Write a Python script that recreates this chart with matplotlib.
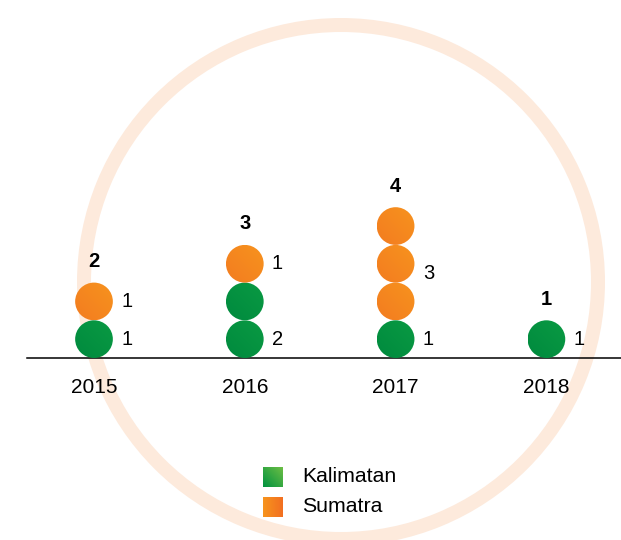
import numpy as np
import matplotlib
matplotlib.use("Agg")
import matplotlib.pyplot as plt
from matplotlib.patches import Circle, Rectangle, Annulus
from matplotlib.colors import LinearSegmentedColormap

plt.rcParams['font.family'] = ['Liberation Sans', 'DejaVu Sans']

years = ['2015', '2016', '2017', '2018']
kalimatan = [1, 2, 1, 1]
sumatra = [1, 1, 3, 0]
series_names = ['Kalimatan', 'Sumatra']

green_cmap = LinearSegmentedColormap.from_list('g', ['#008a3e', '#0a9a43'])
orange_cmap = LinearSegmentedColormap.from_list('o', ['#f37c20', '#f7931e'])
green_leg = LinearSegmentedColormap.from_list('gl', ['#00923f', '#6cbe45'])
orange_leg = LinearSegmentedColormap.from_list('ol', ['#f7941d', '#f26f21'])

px = 37.7  # pixels per data unit
fig = plt.figure(figsize=(6.21, 5.4), dpi=100)
ax = fig.add_axes([0, 0, 1, 1])
ax.set_xlim(-94 / px, (621 - 94) / px)
ax.set_ylim(-(540 - 358) / px, 358 / px)
ax.axis('off')

# background ring
ax.add_patch(Annulus(((341 - 94) / px, (358 - 282) / px), 264 / px, 14 / px,
                     facecolor='#fdeadc', edgecolor='none', zorder=0))

# baseline
ax.plot([-67 / px, 20], [0, 0], color='black', lw=1.1, zorder=2)

grad = np.linspace(0, 1, 64)
diag = (grad[None, :] + grad[:, None]) / 2


def gradient_patch(patch, cmap, extent, img):
    ax.add_patch(patch)
    im = ax.imshow(img, cmap=cmap, extent=extent, origin='lower',
                   interpolation='bilinear', zorder=3, aspect='auto')
    im.set_clip_path(patch)


r = 0.5
for i, yr in enumerate(years):
    x = i * 4.0
    k = 0
    for n, cmap in [(kalimatan[i], green_cmap), (sumatra[i], orange_cmap)]:
        if n == 0:
            continue
        for j in range(n):
            cy = k + j + 0.5
            c = Circle((x, cy), r, facecolor='none', edgecolor='none')
            gradient_patch(c, cmap, [x - r, x + r, cy - r, cy + r], diag)
        ly = k + 0.5 + ((n - 1) // 2) * 0.75
        ax.text(x + 0.72, ly, str(n), fontsize=14.5, ha='left', va='center', zorder=4)
        k += n
    total = kalimatan[i] + sumatra[i]
    ax.text(x, total + 0.56, str(total), fontsize=14.5, fontweight='bold',
            ha='center', va='center', zorder=4)
    ax.text(x, -0.77, yr, fontsize=15, ha='center', va='center', zorder=4)

# legend
lx = (263 - 94) / px
sw = 20 / px
for idx, (name, cmap) in enumerate(zip(series_names, [green_leg, orange_leg])):
    top = -(467 + idx * 30 - 358) / px
    sq = Rectangle((lx, top - sw), sw, sw, facecolor='none', edgecolor='none')
    img = diag if idx == 0 else np.tile(grad, (64, 1))
    gradient_patch(sq, cmap, [lx, lx + sw, top - sw, top], img)
    ax.text((302 - 94) / px, top - sw / 2, name, fontsize=15.3, ha='left', va='center')

ax.set_xlim(-94 / px, (621 - 94) / px)
ax.set_ylim(-(540 - 358) / px, 358 / px)
fig.savefig('out.png', dpi=100)
